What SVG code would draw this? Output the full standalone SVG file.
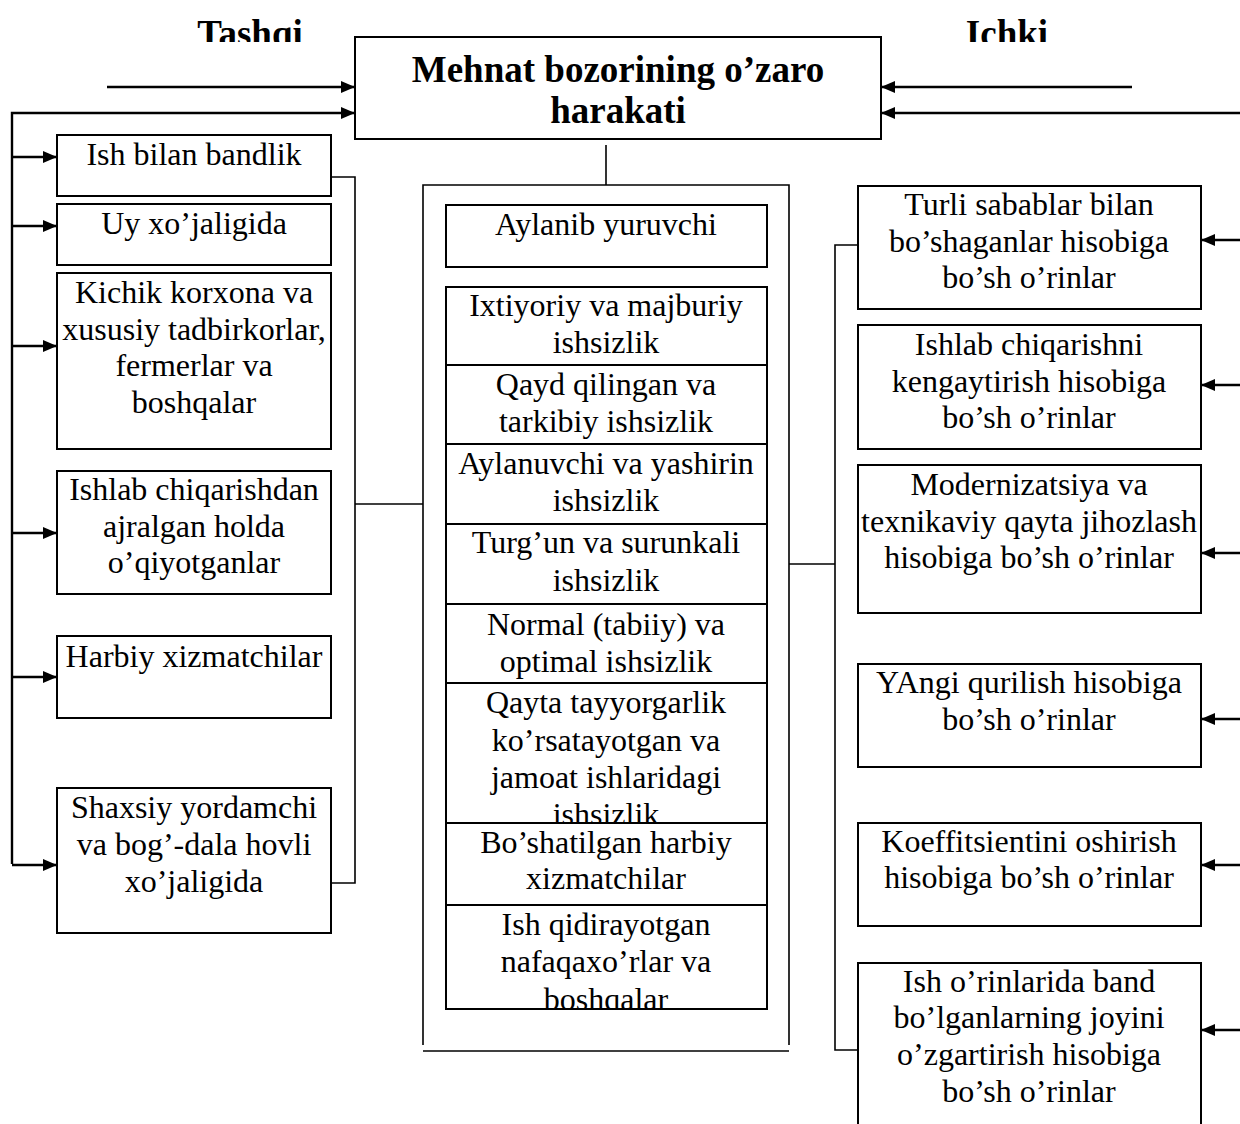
<svg xmlns="http://www.w3.org/2000/svg" width="1240" height="1124" viewBox="0 0 1240 1124">
<style>
.box{fill:#fff;stroke:#000;stroke-width:2}
.t{font-family:"Liberation Serif","Times New Roman",serif;font-size:32px;fill:#000;text-anchor:middle}
.b{font-family:"Liberation Serif","Times New Roman",serif;font-size:37px;font-weight:bold;fill:#000;text-anchor:middle}
.arr{fill:none;stroke:#000;stroke-width:2.4;marker-end:url(#ah)}
.con{fill:none;stroke:#000;stroke-width:1.6}
</style>
<defs>
<marker id="ah" viewBox="0 0 14 12" refX="14" refY="6" markerWidth="14" markerHeight="12" markerUnits="userSpaceOnUse" orient="auto">
<path d="M0,0 L14,6 L0,12 z" fill="#000"/>
</marker>
<clipPath id="clipHead"><rect x="0" y="0" width="1240" height="42"/></clipPath>
<clipPath id="clipQayta"><rect x="446" y="683" width="321" height="140"/></clipPath>
<clipPath id="clipIshQ"><rect x="446" y="905" width="321" height="104"/></clipPath>
</defs>
<rect width="1240" height="1124" fill="#fff"/>

<g id="headings" clip-path="url(#clipHead)">
<text class="b" x="250" y="46">Tashqi</text>
<text class="b" x="1007" y="46">Ichki</text>
</g>

<g id="main">
<rect class="box" x="355" y="37" width="526" height="102"/>
<text class="b" x="618" y="82">Mehnat bozorining o’zaro</text>
<text class="b" x="618" y="123">harakati</text>
</g>

<g id="connectors">
<line class="arr" x1="107" y1="87" x2="355" y2="87"/>
<polyline class="arr" points="12,864 12,113 355,113"/>
<line class="arr" x1="1132" y1="87" x2="881" y2="87"/>
<line class="arr" x1="1240" y1="113" x2="881" y2="113"/>
<line class="arr" x1="12" y1="157" x2="57" y2="157"/>
<line class="arr" x1="12" y1="226" x2="57" y2="226"/>
<line class="arr" x1="12" y1="346" x2="57" y2="346"/>
<line class="arr" x1="12" y1="533" x2="57" y2="533"/>
<line class="arr" x1="12" y1="677" x2="57" y2="677"/>
<line class="arr" x1="12" y1="865" x2="57" y2="865"/>
<line class="arr" x1="1240" y1="240" x2="1201" y2="240"/>
<line class="arr" x1="1240" y1="385" x2="1201" y2="385"/>
<line class="arr" x1="1240" y1="553" x2="1201" y2="553"/>
<line class="arr" x1="1240" y1="719" x2="1201" y2="719"/>
<line class="arr" x1="1240" y1="865" x2="1201" y2="865"/>
<line class="arr" x1="1240" y1="1030" x2="1201" y2="1030"/>
<polyline class="con" points="331,177 355,177 355,883 331,883"/>
<line class="con" x1="355" y1="504" x2="423" y2="504"/>
<line class="con" x1="606" y1="145" x2="606" y2="185"/>
<polyline class="con" points="858,245 835,245 835,1050 858,1050"/>
<line class="con" x1="789" y1="564" x2="835" y2="564"/>
</g>

<g id="outer-middle">
<polyline class="con" points="423,1045 423,185 789,185 789,1045"/>
<line class="con" x1="423" y1="1051" x2="789" y2="1051"/>
</g>

<g id="n-ish-bilan">
<rect class="box" x="57" y="135" width="274" height="61"/>
<text class="t" x="194" y="165">Ish bilan bandlik</text>
</g>
<g id="n-uy">
<rect class="box" x="57" y="204" width="274" height="61"/>
<text class="t" x="194" y="234">Uy xo’jaligida</text>
</g>
<g id="n-kichik">
<rect class="box" x="57" y="273" width="274" height="176"/>
<text class="t" x="194" y="303">Kichik korxona va</text>
<text class="t" x="194" y="340">xususiy tadbirkorlar,</text>
<text class="t" x="194" y="376">fermerlar va</text>
<text class="t" x="194" y="413">boshqalar</text>
</g>
<g id="n-ishlab">
<rect class="box" x="57" y="471" width="274" height="123"/>
<text class="t" x="194" y="500">Ishlab chiqarishdan</text>
<text class="t" x="194" y="537">ajralgan holda</text>
<text class="t" x="194" y="573">o’qiyotganlar</text>
</g>
<g id="n-harbiy">
<rect class="box" x="57" y="636" width="274" height="82"/>
<text class="t" x="194" y="667">Harbiy xizmatchilar</text>
</g>
<g id="n-shaxsiy">
<rect class="box" x="57" y="788" width="274" height="145"/>
<text class="t" x="194" y="818">Shaxsiy yordamchi</text>
<text class="t" x="194" y="855">va bog’-dala hovli</text>
<text class="t" x="194" y="892">xo’jaligida</text>
</g>

<g id="m-aylanib">
<rect class="box" x="446" y="205" width="321" height="62"/>
<text class="t" x="606" y="235">Aylanib yuruvchi</text>
</g>
<g id="m-ixtiyoriy">
<rect class="box" x="446" y="287" width="321" height="78"/>
<text class="t" x="606" y="316">Ixtiyoriy va majburiy</text>
<text class="t" x="606" y="353">ishsizlik</text>
</g>
<g id="m-qayd">
<rect class="box" x="446" y="365" width="321" height="79"/>
<text class="t" x="606" y="395">Qayd qilingan va</text>
<text class="t" x="606" y="432">tarkibiy ishsizlik</text>
</g>
<g id="m-aylanuvchi">
<rect class="box" x="446" y="444" width="321" height="80"/>
<text class="t" x="606" y="474">Aylanuvchi va yashirin</text>
<text class="t" x="606" y="511">ishsizlik</text>
</g>
<g id="m-turgun">
<rect class="box" x="446" y="524" width="321" height="80"/>
<text class="t" x="606" y="553">Turg’un va surunkali</text>
<text class="t" x="606" y="591">ishsizlik</text>
</g>
<g id="m-normal">
<rect class="box" x="446" y="604" width="321" height="79"/>
<text class="t" x="606" y="635">Normal (tabiiy) va</text>
<text class="t" x="606" y="672">optimal ishsizlik</text>
</g>
<g id="m-qayta">
<rect class="box" x="446" y="683" width="321" height="140"/>
<g clip-path="url(#clipQayta)">
<text class="t" x="606" y="713">Qayta tayyorgarlik</text>
<text class="t" x="606" y="751">ko’rsatayotgan va</text>
<text class="t" x="606" y="788">jamoat ishlaridagi</text>
<text class="t" x="606" y="825">ishsizlik</text>
</g>
<line class="con" x1="446" y1="823" x2="767" y2="823" stroke-width="2"/>
</g>
<g id="m-boshatilgan">
<rect class="box" x="446" y="823" width="321" height="82"/>
<text class="t" x="606" y="853">Bo’shatilgan harbiy</text>
<text class="t" x="606" y="889">xizmatchilar</text>
</g>
<g id="m-ish-qidir">
<rect class="box" x="446" y="905" width="321" height="104"/>
<g clip-path="url(#clipIshQ)">
<text class="t" x="606" y="935">Ish qidirayotgan</text>
<text class="t" x="606" y="972">nafaqaxo’rlar va</text>
<text class="t" x="606" y="1010">boshqalar</text>
</g>
<line class="con" x1="446" y1="1009" x2="767" y2="1009" stroke-width="2"/>
</g>

<g id="r-turli">
<rect class="box" x="858" y="186" width="343" height="123"/>
<text class="t" x="1029" y="215">Turli sabablar bilan</text>
<text class="t" x="1029" y="252">bo’shaganlar hisobiga</text>
<text class="t" x="1029" y="288">bo’sh o’rinlar</text>
</g>
<g id="r-ishlab">
<rect class="box" x="858" y="325" width="343" height="124"/>
<text class="t" x="1029" y="355">Ishlab chiqarishni</text>
<text class="t" x="1029" y="392">kengaytirish hisobiga</text>
<text class="t" x="1029" y="428">bo’sh o’rinlar</text>
</g>
<g id="r-modern">
<rect class="box" x="858" y="465" width="343" height="148"/>
<text class="t" x="1029" y="495">Modernizatsiya va</text>
<text class="t" x="1029" y="532">texnikaviy qayta jihozlash</text>
<text class="t" x="1029" y="568">hisobiga bo’sh o’rinlar</text>
</g>
<g id="r-yangi">
<rect class="box" x="858" y="664" width="343" height="103"/>
<text class="t" x="1029" y="693">YAngi qurilish hisobiga</text>
<text class="t" x="1029" y="730">bo’sh o’rinlar</text>
</g>
<g id="r-koeff">
<rect class="box" x="858" y="823" width="343" height="103"/>
<text class="t" x="1029" y="852">Koeffitsientini oshirish</text>
<text class="t" x="1029" y="888">hisobiga bo’sh o’rinlar</text>
</g>
<g id="r-ish-orin">
<rect class="box" x="858" y="963" width="343" height="180"/>
<text class="t" x="1029" y="992">Ish o’rinlarida band</text>
<text class="t" x="1029" y="1028">bo’lganlarning joyini</text>
<text class="t" x="1029" y="1065">o’zgartirish hisobiga</text>
<text class="t" x="1029" y="1102">bo’sh o’rinlar</text>
</g>
</svg>
